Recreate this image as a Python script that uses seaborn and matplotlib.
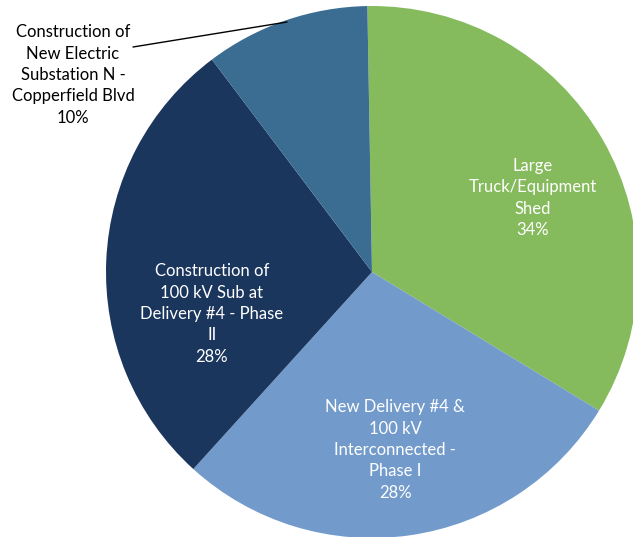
import matplotlib
matplotlib.use("Agg")
import matplotlib.pyplot as plt
import seaborn as sns

# ---------------------------------------------
# DATA
# ---------------------------------------------
projects = [
    "Large\nTruck/Equipment\nShed",
    "New Delivery #4 &\n100 kV\nInterconnected -\nPhase I",
    "Construction of\n100 kV Sub at\nDelivery #4 - Phase\nII",
    "Construction of\nNew Electric\nSubstation N -\nCopperfield Blvd",
]
shares = [34, 28, 28, 10]
colors = ["#86BB5D", "#729BCC", "#1B365D", "#3A6D91"]

# ---------------------------------------------
# STYLE
# ---------------------------------------------
sns.set_style("white")
plt.rcParams["font.family"] = ["Lato", "DejaVu Sans"]

W, H = 633, 537
fig = plt.figure(figsize=(W / 100, H / 100), dpi=100)
ax = fig.add_axes([0, 0, 1, 1])

cx, cy, r = 372, H - 272, 266

wedges, _ = ax.pie(
    shares,
    colors=colors,
    startangle=91,
    counterclock=False,
    center=(cx, cy),
    radius=r,
    frame=True,
    wedgeprops=dict(linewidth=0),
)
ax.set_xlim(0, W)
ax.set_ylim(0, H)
ax.set_aspect("equal")
ax.axis("off")

# ---------------------------------------------
# LABELS
# ---------------------------------------------
label_pos = [(533, H - 198), (395, H - 450), (212, H - 314), (73, H - 75)]
text_colors = ["white", "white", "white", "black"]

for name, val, (lx, ly), tc in zip(projects, shares, label_pos, text_colors):
    ax.text(lx, ly, f"{name}\n{val}%", ha="center", va="center",
            color=tc, fontsize=12, linespacing=1.42)

# leader line for the small slice
ax.plot([133, 287], [H - 47, H - 22], color="black", linewidth=1)

fig.savefig("out.png", dpi=100)
